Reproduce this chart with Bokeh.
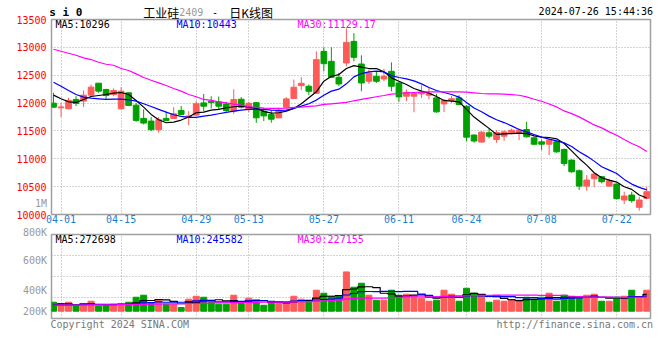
import pandas as pd
from bokeh.plotting import figure
from bokeh.models import Range1d, FixedTicker, Label, ColumnDataSource, NumeralTickFormatter
from bokeh.core.properties import value
from bokeh.layouts import column
from bokeh.embed import file_html
from bokeh.resources import INLINE

# ---------------- data ----------------
holidays = ["2024-04-04", "2024-04-05", "2024-05-01", "2024-05-02", "2024-05-03", "2024-06-10"]
days = [d for d in pd.bdate_range("2024-03-29", "2024-07-26") if d.strftime("%Y-%m-%d") not in holidays]
day_labels = [d.strftime("%m-%d") for d in days]

tick_labels = ["04-01", "04-15", "04-29", "05-13", "05-27", "06-11", "06-24", "07-08", "07-22"]
price_ticks = [10000, 10500, 11000, 11500, 12000, 12500, 13000, 13500]
vol_tick_labels = ["800K", "600K", "400K", "200K"]

open_ = [11999, 11915, 11898, 12065, 12035, 12142, 12357, 12244, 12154, 11898,
         12184, 11963, 11725, 11677, 11522, 11725, 11725, 11868, 11749, 11784,
         12003, 12033, 12021, 11985, 11854, 12069, 11884, 12007, 11854, 11794,
         11735, 11926, 12081, 12313, 12302, 12176, 12928, 12749, 12463, 12719,
         13107, 12701, 12391, 12480, 12433, 12570, 12361, 12123, 12123, 12164,
         12142, 12093, 11985, 12047, 12093, 11943, 11426, 11300, 11466, 11346,
         11406, 11465, 11465, 11525, 11376, 11304, 11262, 11304, 11167, 10976,
         10785, 10510, 10642, 10678, 10510, 10546, 10260, 10349, 10129, 10290]
high = [12184, 12005, 12095, 12124, 12226, 12333, 12357, 12256, 12262, 12286,
        12196, 12005, 11886, 11749, 11749, 11844, 11927, 11946, 11856, 12035,
        12164, 12122, 12118, 12023, 12248, 12107, 12017, 12021, 11916, 11868,
        11916, 12107, 12421, 12463, 12333, 12928, 13000, 13000, 12542, 13340,
        13256, 12856, 12600, 12560, 12618, 12731, 12375, 12244, 12196, 12319,
        12274, 12166, 12065, 12124, 12142, 11963, 11438, 11496, 11546, 11513,
        11513, 11543, 11543, 11662, 11394, 11346, 11364, 11322, 11185, 10988,
        10809, 10707, 10749, 10690, 10642, 10558, 10409, 10409, 10320, 10498]
low = [11915, 11750, 11886, 11946, 11927, 12124, 12184, 12065, 12124, 11886,
       11946, 11665, 11617, 11498, 11468, 11677, 11713, 11784, 11605, 11767,
       11854, 11902, 11886, 11844, 11806, 11904, 11838, 11645, 11677, 11647,
       11725, 11916, 12075, 12236, 12142, 12170, 12570, 12451, 12303, 12660,
       12749, 12212, 12343, 12363, 12391, 12212, 12021, 12035, 11836, 12093,
       12065, 11826, 11838, 12005, 11963, 11317, 11290, 11290, 11366, 11286,
       11322, 11441, 11334, 11382, 11244, 11155, 11065, 11107, 10869, 10749,
       10439, 10427, 10487, 10558, 10498, 10272, 10188, 10212, 10069, 10272]
close = [11927, 11930, 12047, 11993, 12142, 12286, 12214, 12136, 12226, 12214,
         11957, 11689, 11641, 11522, 11701, 11689, 11808, 11796, 11767, 11987,
         11944, 12009, 11944, 11866, 12063, 11926, 11997, 11735, 11770, 11711,
         11866, 12075, 12284, 12355, 12212, 12779, 12707, 12463, 12343, 13089,
         12821, 12361, 12540, 12391, 12480, 12302, 12111, 12194, 12170, 12194,
         12166, 11842, 12045, 12077, 11973, 11388, 11319, 11478, 11406, 11471,
         11483, 11513, 11513, 11394, 11262, 11262, 11334, 11125, 10916, 10767,
         10510, 10618, 10725, 10588, 10606, 10284, 10331, 10248, 10260, 10409]

ma5 = [12142, 12077, 12023, 12011, 12065, 12118, 12136, 12154, 12178, 12190,
       12154, 12047, 11928, 11796, 11701, 11647, 11659, 11695, 11749, 11826,
       11838, 11874, 11886, 11916, 11934, 11945, 11928, 11904, 11850, 11820,
       11826, 11856, 11904, 11987, 12095, 12202, 12393, 12482, 12512, 12620,
       12673, 12644, 12620, 12620, 12560, 12453, 12393, 12333, 12262, 12214,
       12178, 12118, 12047, 12035, 12023, 11886, 11749, 11647, 11546, 11438,
       11447, 11453, 11459, 11453, 11411, 11388, 11382, 11358, 11274, 11143,
       11006, 10886, 10749, 10660, 10618, 10582, 10499, 10451, 10349, 10296]
ma10 = [12375, 12303, 12226, 12154, 12107, 12089, 12077, 12065, 12071, 12071,
        12059, 12035, 11987, 11939, 11886, 11838, 11790, 11760, 11743, 11743,
        11766, 11784, 11808, 11832, 11856, 11874, 11886, 11892, 11886, 11874,
        11868, 11874, 11904, 11945, 11987, 12053, 12142, 12214, 12250, 12345,
        12471, 12530, 12560, 12572, 12560, 12494, 12459, 12435, 12399, 12345,
        12280, 12226, 12190, 12154, 12107, 12011, 11910, 11844, 11766, 11701,
        11650, 11591, 11525, 11483, 11435, 11388, 11352, 11322, 11286, 11221,
        11125, 11048, 10958, 10857, 10797, 10737, 10630, 10546, 10487, 10443]
ma30 = [12966, 12930, 12894, 12858, 12811, 12781, 12733, 12697, 12679, 12620,
        12584, 12524, 12460, 12410, 12363, 12315, 12262, 12214, 12154, 12113,
        12065, 12047, 12023, 12005, 11981, 11963, 11934, 11922, 11910, 11904,
        11904, 11910, 11922, 11928, 11939, 11951, 11975, 11987, 11999, 12011,
        12041, 12065, 12089, 12113, 12136, 12160, 12172, 12184, 12190, 12196,
        12202, 12202, 12202, 12202, 12202, 12196, 12184, 12172, 12165, 12165,
        12160, 12151, 12140, 12110, 12068, 12032, 11984, 11931, 11859, 11811,
        11752, 11680, 11608, 11555, 11483, 11423, 11346, 11274, 11215, 11129]

# volumes in thousands of lots
vol_k = [146, 125, 146, 86, 86, 162, 86, 86, 114, 114,
         146, 227, 260, 125, 190, 114, 114, 60, 195, 243,
         227, 151, 114, 114, 260, 125, 211, 162, 97, 130,
         146, 146, 243, 195, 146, 341, 292, 243, 243, 638,
         390, 454, 260, 179, 179, 341, 260, 276, 243, 211,
         162, 179, 341, 276, 162, 373, 292, 255, 146, 179,
         162, 190, 179, 227, 195, 227, 292, 162, 260, 227,
         211, 260, 276, 162, 162, 227, 243, 341, 211, 341]
vma5_k = [105, 118, 118, 105, 118, 121, 113, 101, 107, 112,
          109, 137, 172, 174, 190, 183, 161, 121, 135, 145,
          168, 175, 186, 170, 173, 153, 165, 174, 171, 145,
          149, 136, 152, 172, 175, 214, 243, 243, 253, 351,
          361, 394, 397, 384, 292, 283, 244, 247, 260, 266,
          230, 214, 227, 234, 224, 266, 289, 272, 246, 249,
          207, 186, 171, 187, 191, 204, 224, 221, 227, 234,
          230, 224, 247, 227, 214, 217, 214, 227, 237, 272.698]
vma10_k = [98, 99, 100, 101, 103, 105, 108, 110, 113, 115,
           115, 125, 137, 141, 151, 146, 149, 146, 155, 167,
           176, 168, 153, 152, 159, 160, 170, 180, 170, 159,
           151, 151, 163, 172, 160, 182, 190, 198, 213, 263,
           288, 319, 320, 319, 322, 322, 319, 322, 322, 279,
           257, 229, 237, 247, 245, 248, 252, 249, 240, 237,
           237, 238, 221, 217, 220, 205, 205, 196, 207, 212,
           217, 224, 234, 227, 224, 224, 219, 237, 232, 245.582]
vma30_k = [100, 100, 100, 101, 101, 102, 102, 103, 103, 106,
           108, 110, 112, 114, 116, 118, 120, 122, 125, 128,
           130, 132, 134, 136, 138, 140, 142, 144, 146, 147,
           147, 148, 151, 155, 157, 163, 170, 175, 179, 197,
           205, 212, 212, 214, 214, 221, 226, 233, 235, 234,
           232, 233, 240, 246, 242, 251, 253, 256, 258, 260,
           260, 262, 260, 261, 262, 258, 258, 256, 256, 243,
           237, 230, 231, 230, 230, 226, 225, 227, 226, 227.155]

# ---------------- styling ----------------
UP = "#FF5A5A"
DOWN = "#00A000"
MONO = "DejaVu Sans Mono"
CJK = "Noto Sans CJK SC"
GRID = "#A8A8A8"
FRAME = "#A0A0A0"

x = list(range(len(days)))
ticks = [day_labels.index(t) for t in tick_labels]
colors = [UP if c >= o else DOWN for o, c in zip(open_, close)]

src = ColumnDataSource(dict(
    x=x, open=open_, high=high, low=low, close=close,
    top=[max(o, c) for o, c in zip(open_, close)],
    bottom=[min(o, c) for o, c in zip(open_, close)],
    color=colors,
    vol=[v * 1000 for v in vol_k],
    vma5=[v * 1000 for v in vma5_k],
    vma10=[v * 1000 for v in vma10_k],
    vma30=[v * 1000 for v in vma30_k],
    ma5=ma5, ma10=ma10, ma30=ma30,
))

xr = Range1d(-0.27, 79.5)


def style_common(p):
    p.background_fill_color = "white"
    p.border_fill_color = "white"
    p.outline_line_color = FRAME
    p.outline_line_width = 1.5
    p.xgrid.ticker = FixedTicker(ticks=ticks)
    p.xgrid.grid_line_color = GRID
    p.xgrid.grid_line_dash = "1 2"
    p.ygrid.grid_line_color = GRID
    p.ygrid.grid_line_dash = "1 2"


def lab(p, text, x, y, color="black", size="10px"):
    # text inside the frame (screen units from the frame's bottom-left)
    p.add_layout(Label(x=x, y=y, x_units="screen", y_units="screen", text=text,
                       text_color=color, text_font_size=size, text_font=MONO,
                       text_align="left", text_baseline="middle"))


def side_text(p, text, ax, ay, dx, dy, color="black", size="10px", font=MONO,
              align="left", style="normal"):
    # text in the figure border: anchored at a frame corner, shifted by pixels
    p.text(x=[ax], y=[ay], text=[text], x_offset=dx, y_offset=dy,
           text_color=color, text_font_size=size, text_font=value(font),
           text_align=align, text_baseline="middle", text_font_style=style,
           level="overlay")


# ---------------- price panel ----------------
p1 = figure(width=660, height=226, x_range=xr, y_range=Range1d(10000, 13500),
            output_backend="svg", toolbar_location=None,
            min_border_left=51, min_border_right=10, min_border_top=19, min_border_bottom=12)
style_common(p1)
p1.ygrid.ticker = FixedTicker(ticks=price_ticks)

p1.xaxis.ticker = FixedTicker(ticks=ticks)
p1.xaxis.major_label_overrides = {t: l for t, l in zip(ticks, tick_labels)}
p1.xaxis.major_label_text_color = "#1A7FD0"
p1.xaxis.major_label_text_font = MONO
p1.xaxis.major_label_text_font_size = "10px"
p1.xaxis.major_label_standoff = 0
p1.xaxis.major_tick_line_color = None
p1.xaxis.major_tick_out = 0
p1.xaxis.minor_tick_line_color = None
p1.xaxis.axis_line_color = None

p1.yaxis.ticker = FixedTicker(ticks=price_ticks)
p1.yaxis.formatter = NumeralTickFormatter(format="0")
p1.yaxis.major_label_text_color = "#FF0000"
p1.yaxis.major_label_text_font = MONO
p1.yaxis.major_label_text_font_size = "10px"
p1.yaxis.major_label_standoff = 5
p1.yaxis.major_tick_line_color = None
p1.yaxis.major_tick_out = 0
p1.yaxis.minor_tick_line_color = None
p1.yaxis.axis_line_color = None

p1.segment(x0="x", y0="low", x1="x", y1="high", color="color", line_width=1, source=src)
p1.vbar(x="x", width=0.76, top="top", bottom="bottom", fill_color="color", line_color="color",
        line_width=1, source=src)
p1.line("x", "ma5", color="black", line_width=1.2, source=src)
p1.line("x", "ma10", color="#0000FF", line_width=1.2, source=src)
p1.line("x", "ma30", color="#FF00FF", line_width=1.2, source=src)

lab(p1, "MA5:10296", 4, 190.5)
lab(p1, "MA10:10443", 125, 190.5, color="#0000FF")
lab(p1, "MA30:11129.17", 246, 190.5, color="#FF00FF")

top_left = (xr.start, p1.y_range.end)
bot_left = (xr.start, p1.y_range.start)
side_text(p1, "s i 0", *top_left, -2.3, -7.3, size="11px", style="bold")
side_text(p1, "工业硅", *top_left, 91.8, -7.5, size="12px", font=CJK)
side_text(p1, "2409", *top_left, 127.8, -7.5, color="#999999")
side_text(p1, "-", *top_left, 160.5, -7.5)
side_text(p1, "日K线图", *top_left, 177.8, -7.5, size="12px", font=CJK)
side_text(p1, "2024-07-26 15:44:36", *top_left, 601.5, -7.8, align="right")
side_text(p1, "1M", *bot_left, -4.5, -11.5, color="#999999", align="right")

# ---------------- volume panel ----------------
p2 = figure(width=660, height=134, x_range=xr, y_range=Range1d(-118000, 1245000),
            output_backend="svg", toolbar_location=None,
            min_border_left=51, min_border_right=10, min_border_top=8, min_border_bottom=42)
style_common(p2)
v0, v1 = p2.y_range.start, p2.y_range.end
p2.ygrid.ticker = FixedTicker(ticks=[v0 + k * (v1 - v0) / 4 for k in (1, 2, 3)])
p2.xaxis.visible = False
p2.yaxis.visible = False

p2.vbar(x="x", width=0.8, top="vol", bottom=0, fill_color="color", line_color="color", source=src)
p2.step("x", "vma5", mode="center", color="black", line_width=1.2, source=src)
p2.step("x", "vma10", mode="center", color="#0000FF", line_width=1.2, source=src)
p2.step("x", "vma30", mode="center", color="#FF00FF", line_width=1.2, source=src)

lab(p2, "MA5:272698", 4, 79.3)
lab(p2, "MA10:245582", 125, 79.3, color="#0000FF")
lab(p2, "MA30:227155", 246, 79.3, color="#FF00FF")

vb_left = (xr.start, v0)
for t, dy in zip(vol_tick_labels, [-85.8, -57.7, -27.7, -7.0]):
    side_text(p2, t, *vb_left, -4.5, dy, color="#999999", align="right")
side_text(p2, "Copyright 2024 SINA.COM", *vb_left, -1, 5.5, color="#777777")
side_text(p2, "http://finance.sina.com.cn", *vb_left, 601.5, 5.5, color="#777777", align="right")

layout = column(p1, p2)
open("out.html", "w").write(file_html(layout, INLINE))
